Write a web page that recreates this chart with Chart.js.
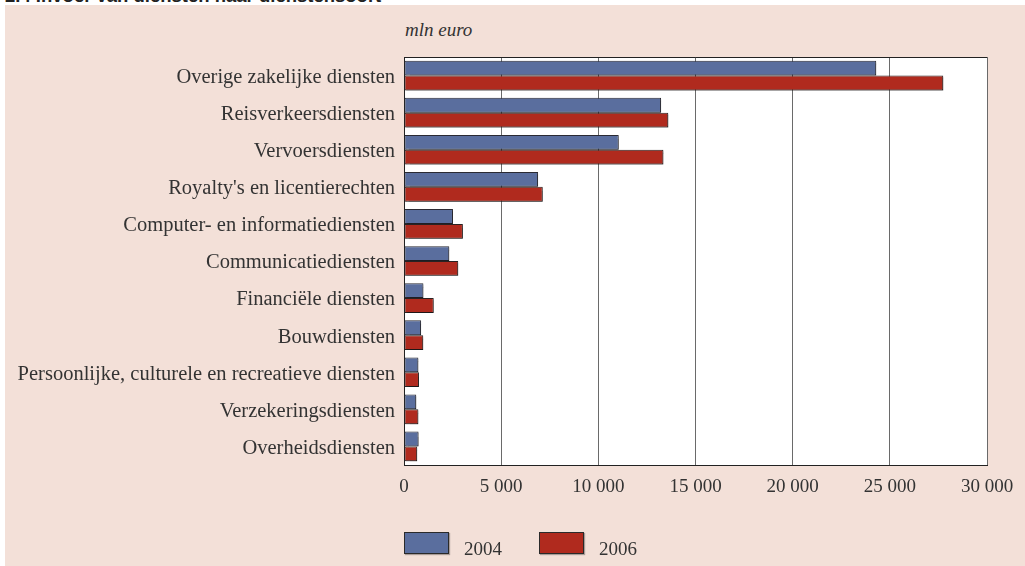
<!DOCTYPE html>
<html><head><meta charset="utf-8">
<script src="https://cdn.jsdelivr.net/npm/chart.js@4/dist/chart.umd.min.js"></script>
<style>
html,body{margin:0;padding:0;background:#fff;width:1025px;height:566px;overflow:hidden;}
#panel{position:absolute;left:5px;top:5px;width:1020px;height:561px;background:#f3e0d8;}
#title{position:absolute;left:5px;top:-13px;font:bold 18.5px "Liberation Sans";line-height:18.5px;color:#222;white-space:nowrap;}
#unit{position:absolute;left:405px;top:20px;font:italic 19px "Liberation Serif";line-height:19px;color:#333;}
#wrap{position:absolute;left:0;top:0;width:1025px;height:566px;}
</style></head><body>
<div id="panel"></div>
<div id="title">2.4 Invoer van diensten naar dienstensoort</div>
<div id="unit">mln euro</div>
<div id="wrap"><canvas id="c" width="1025" height="566"></canvas></div>
<script>
const categories = [
  'Overige zakelijke diensten',
  'Reisverkeersdiensten',
  'Vervoersdiensten',
  "Royalty's en licentierechten",
  'Computer- en informatiediensten',
  'Communicatiediensten',
  'Financiële diensten',
  'Bouwdiensten',
  'Persoonlijke, culturele en recreatieve diensten',
  'Verzekeringsdiensten',
  'Overheidsdiensten'
];
const values2004 = [24300, 13230, 11050, 6900, 2520, 2330, 1000, 880, 740, 630, 750];
const values2006 = [27750, 13600, 13350, 7140, 3030, 2790, 1530, 990, 770, 740, 680];
const seriesLabels = ['2004', '2006'];
const xTickValues = [0, 5000, 10000, 15000, 20000, 25000, 30000];
const xTickLabels = ['0', '5 000', '10 000', '15 000', '20 000', '25 000', '30 000'];

const seriesColors = ['#5a6e9e', '#b02a1e'];
const textColor = '#333';
const font = {family: 'Liberation Serif', size: 19};
const catFont = {family: 'Liberation Serif', size: 20.5};

const areaPlugin = {
  id: 'areaPlugin',
  beforeDraw(chart) {
    const {ctx, chartArea: a} = chart;
    ctx.save();
    ctx.fillStyle = '#fff';
    ctx.fillRect(a.left, a.top, a.right - a.left, a.bottom - a.top);
    ctx.restore();
  },
  beforeDatasetsDraw(chart) {
    const ctx = chart.ctx;
    ctx.save();
    ctx.shadowColor = 'rgba(0,0,0,0.3)';
    ctx.shadowOffsetX = 1.5;
    ctx.shadowOffsetY = 1.5;
    ctx.shadowBlur = 1;
  },
  afterDatasetsDraw(chart) {
    chart.ctx.restore();
  },
  afterDraw(chart) {
    const {ctx, chartArea: a} = chart;
    ctx.save();
    ctx.strokeStyle = '#222';
    ctx.lineWidth = 1;
    ctx.beginPath();
    ctx.moveTo(a.left, Math.round(a.top) + 0.5);
    ctx.lineTo(a.right, Math.round(a.top) + 0.5);
    ctx.stroke();
    // legend
    let x = a.left;
    const boxW = 45, boxH = 22, boxTop = 532;
    ctx.font = font.size + 'px ' + font.family;
    ctx.textBaseline = 'alphabetic';
    chart.data.datasets.forEach((ds, i) => {
      ctx.save();
      ctx.shadowColor = 'rgba(0,0,0,0.3)';
      ctx.shadowOffsetX = 1; ctx.shadowOffsetY = 1; ctx.shadowBlur = 1;
      ctx.fillStyle = ds.backgroundColor;
      ctx.fillRect(x, boxTop, boxW, boxH);
      ctx.restore();
      ctx.strokeStyle = '#2a2a2a';
      ctx.strokeRect(x + 0.5, boxTop + 0.5, boxW - 1, boxH - 1);
      ctx.fillStyle = textColor;
      const tx = x + boxW + 15;
      ctx.fillText(ds.label, tx, 555);
      x = tx + ctx.measureText(ds.label).width + 37;
    });
    ctx.restore();
  }
};

new Chart(document.getElementById('c'), {
  type: 'bar',
  data: {
    labels: categories,
    datasets: [
      {label: seriesLabels[0], data: values2004, backgroundColor: seriesColors[0], borderColor: '#2a2a33', borderWidth: 1, borderSkipped: false},
      {label: seriesLabels[1], data: values2006, backgroundColor: seriesColors[1], borderColor: '#2a2222', borderWidth: 1, borderSkipped: false}
    ]
  },
  options: {
    indexAxis: 'y',
    responsive: false,
    animation: false,
    layout: {padding: {left: 0, right: 38, top: 57, bottom: 0}},
    datasets: {bar: {categoryPercentage: 0.8, barPercentage: 1}},
    plugins: {legend: {display: false}, tooltip: {enabled: false}, title: {display: false}},
    scales: {
      x: {
        min: 0, max: 30000,
        afterBuildTicks(s) { s.ticks = xTickValues.map(v => ({value: v})); },
        afterFit(s) { s.height = 101; },
        ticks: {
          font: font, color: textColor, padding: 11, maxRotation: 0, autoSkip: false,
          callback: (v) => { const i = xTickValues.indexOf(v); return i >= 0 ? xTickLabels[i] : ''; }
        },
        grid: {color: '#6a6a6a', lineWidth: 1, drawTicks: false},
        border: {display: true, color: '#222', width: 1}
      },
      y: {
        afterFit(s) { s.width = 404; },
        ticks: {font: catFont, color: textColor, padding: 9, autoSkip: false, labelOffset: 2},
        grid: {display: false, drawTicks: false},
        border: {display: true, color: '#222', width: 1}
      }
    }
  },
  plugins: [areaPlugin]
});
</script>
</body></html>
